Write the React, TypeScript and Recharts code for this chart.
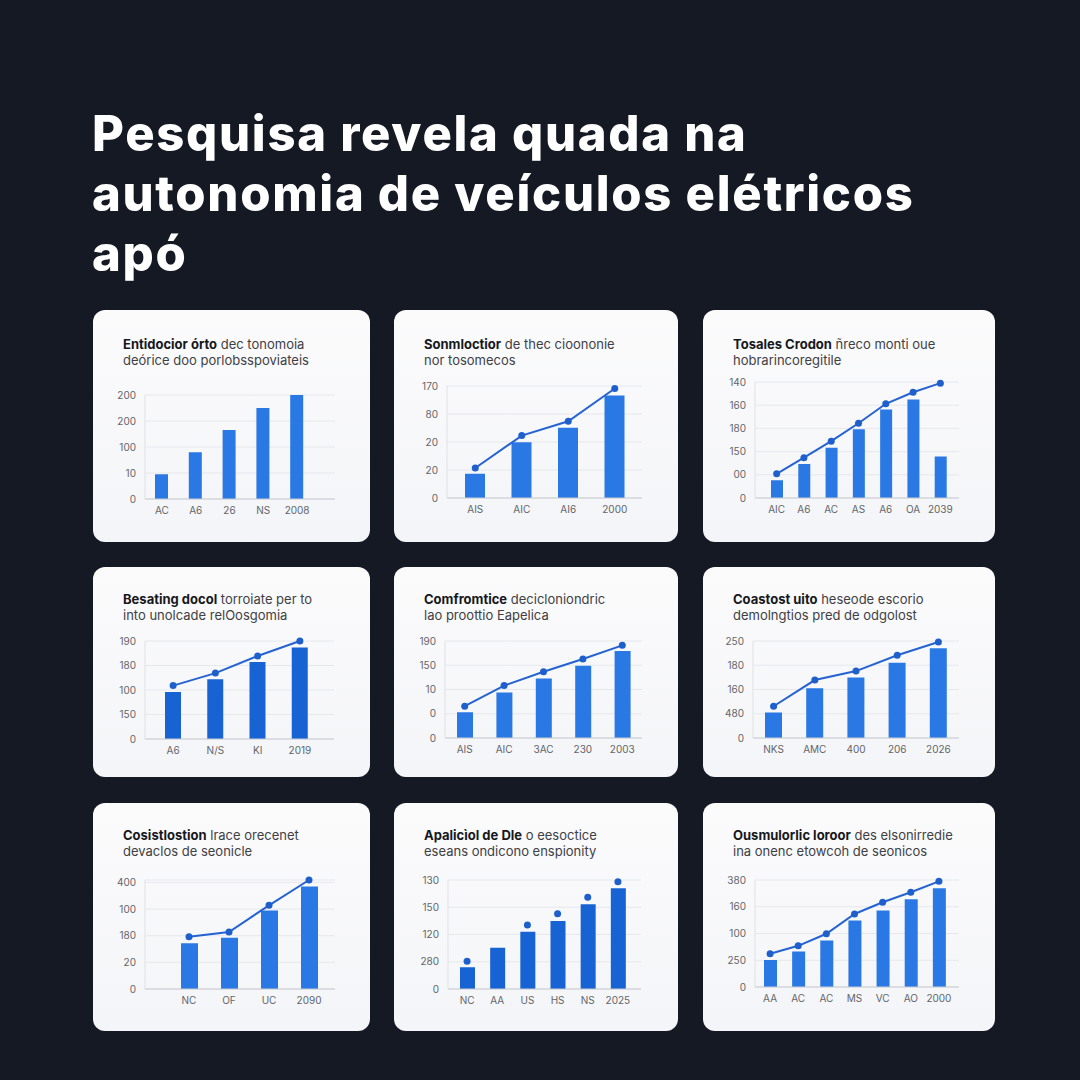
import { ComposedChart, Bar, Line, XAxis, YAxis, CartesianGrid } from 'recharts'

// chart 1
const c1Cats = ['AC', 'A6', '26', 'NS', '2008']
const c1Bars = [0.95, 1.8, 2.65, 3.5, 4.0]
const c1YLabels = ['0', '10', '100', '200', '200']

// chart 2
const c2Cats = ['AIS', 'AIC', 'AI6', '2000']
const c2Bars = [0.87, 1.99, 2.51, 3.66]
const c2Line = [1.07, 2.23, 2.74, 3.91]
const c2YLabels = ['0', '20', '20', '80', '170']

// chart 3
const c3Cats = ['AIC', 'A6', 'AC', 'AS', 'A6', 'OA', '2039']
const c3Bars = [0.77, 1.47, 2.17, 2.96, 3.82, 4.25, 1.79]
const c3Line = [1.04, 1.74, 2.45, 3.22, 4.06, 4.56, 4.95]
const c3YLabels = ['0', '00', '150', '180', '160', '140']

// chart 4
const c4Cats = ['A6', 'N/S', 'KI', '2019']
const c4Bars = [1.92, 2.44, 3.14, 3.73]
const c4Line = [2.18, 2.69, 3.39, 4.0]
const c4YLabels = ['0', '150', '100', '180', '190']

// chart 5
const c5Cats = ['AIS', 'AIC', '3AC', '230', '2003']
const c5Bars = [1.06, 1.88, 2.45, 2.98, 3.59]
const c5Line = [1.31, 2.16, 2.73, 3.26, 3.82]
const c5YLabels = ['0', '0', '10', '150', '190']

// chart 6
const c6Cats = ['NKS', 'AMC', '400', '206', '2026']
const c6Bars = [1.05, 2.05, 2.5, 3.1, 3.7]
const c6Line = [1.31, 2.39, 2.76, 3.41, 3.96]
const c6YLabels = ['0', '480', '160', '180', '250']

// chart 7
const c7Cats = ['NC', 'OF', 'UC', '2090']
const c7Bars = [1.72, 1.92, 2.95, 3.85]
const c7Line = [1.96, 2.14, 3.14, 4.09]
const c7YLabels = ['0', '20', '180', '100', '400']

// chart 8
const c8Cats = ['NC', 'AA', 'US', 'HS', 'NS', '2025']
const c8Bars = [0.8, 1.51, 2.1, 2.5, 3.11, 3.7]
const c8Dots = [1.02, null, 2.35, 2.76, 3.37, 3.94]
const c8YLabels = ['0', '280', '120', '150', '130']

// chart 9
const c9Cats = ['AA', 'AC', 'AC', 'MS', 'VC', 'AO', '2000']
const c9Bars = [1.01, 1.33, 1.74, 2.49, 2.86, 3.28, 3.69]
const c9Line = [1.24, 1.54, 1.99, 2.73, 3.17, 3.54, 3.95]
const c9YLabels = ['0', '250', '100', '160', '380']

const BLUE = '#2a78e4'
const DARK_BLUE = '#1763d3'
const LINE_BLUE = '#2463d1'
const FONT = 'Inter, "Noto Sans", sans-serif'

interface CardProps {
  box: { x: number; y: number; w: number; h: number }
  plot: { l: number; r: number; t: number; b: number }
  pad: { left: number; right: number }
  titleTop: number
  boldText: string
  restText: string
  line2: string
  cats: string[]
  bars: number[]
  line?: (number | null)[]
  showLine?: boolean
  yLabels: string[]
  barSize: number
  color: string
}

function ChartCard(p: CardProps) {
  const YW = 40
  const XH = 20
  const data = p.cats.map((c, i) => ({
    name: c,
    bar: p.bars[i],
    line: p.line ? p.line[i] : null,
  }))
  const n = p.yLabels.length - 1
  const ticks = p.yLabels.map((_, i) => i)
  const margin = {
    top: p.plot.t - p.box.y,
    right: p.box.x + p.box.w - p.plot.r,
    left: p.plot.l - p.box.x - YW,
    bottom: p.box.y + p.box.h - p.plot.b - XH,
  }
  return (
    <div
      style={{
        position: 'absolute',
        left: p.box.x,
        top: p.box.y,
        width: p.box.w,
        height: p.box.h,
        background: 'linear-gradient(180deg, #fbfbfc 0%, #f4f5f8 100%)',
        borderRadius: 12,
        overflow: 'hidden',
      }}
    >
      <div style={{ position: 'absolute', left: 0, top: 0 }}>
        <ComposedChart width={p.box.w} height={p.box.h} data={data} margin={margin}>
          <CartesianGrid vertical={false} stroke="#e6e8ec" />
          <XAxis
            dataKey="name"
            height={XH}
            padding={p.pad}
            tickLine={false}
            tickSize={0}
            tickMargin={8}
            axisLine={{ stroke: '#c8cbd1' }}
            tick={{ fontSize: 10, fill: '#62656b', fontFamily: FONT }}
            interval={0}
          />
          <YAxis
            type="number"
            width={YW}
            domain={[0, n]}
            ticks={ticks}
            interval={0}
            tickLine={false}
            tickSize={0}
            tickMargin={9}
            axisLine={{ stroke: '#dfe1e5' }}
            tickFormatter={(v: number) => p.yLabels[v] ?? ''}
            tick={{ fontSize: 10, fill: '#62656b', fontFamily: FONT }}
          />
          <Bar dataKey="bar" fill={p.color} barSize={p.barSize} isAnimationActive={false} />
          {p.line && (
            <Line
              dataKey="line"
              type="linear"
              stroke={p.showLine === false ? 'none' : LINE_BLUE}
              strokeWidth={2}
              dot={{ r: 3.5, fill: '#1f5fcc', stroke: '#1f5fcc', strokeWidth: 0 }}
              activeDot={false}
              isAnimationActive={false}
            />
          )}
        </ComposedChart>
      </div>
      <div
        style={{
          position: 'absolute',
          left: 30,
          top: p.titleTop,
          fontFamily: FONT,
          fontSize: 13,
          lineHeight: '16px',
          color: '#3e4045',
          whiteSpace: 'nowrap',
        }}
      >
        <div>
          <span style={{ fontWeight: 700, color: '#16181c' }}>{p.boldText}</span>
          {p.restText}
        </div>
        <div>{p.line2}</div>
      </div>
    </div>
  )
}

export default function App() {
  return (
    <div
      style={{
        position: 'absolute',
        left: 0,
        top: 0,
        width: 1080,
        height: 1080,
        background: '#151924',
        overflow: 'hidden',
      }}
    >
      <div
        style={{
          position: 'absolute',
          left: 92,
          top: 104,
          fontFamily: FONT,
          fontWeight: 800,
          fontSize: 49,
          lineHeight: '60px',
          color: '#ffffff',
          letterSpacing: 1.7,
          whiteSpace: 'nowrap',
        }}
      >
        <div>Pesquisa revela quada na</div>
        <div>autonomia de veículos elétricos</div>
        <div>apó</div>
      </div>

      <ChartCard
        box={{ x: 93, y: 310, w: 277, h: 232 }}
        plot={{ l: 145, r: 335, t: 395, b: 499 }}
        pad={{ left: 0, right: 21 }}
        titleTop={26}
        boldText="Entidocior órto"
        restText=" dec tonomoia"
        line2="deórice doo porlobsspoviateis"
        cats={c1Cats}
        bars={c1Bars}
        yLabels={c1YLabels}
        barSize={13}
        color={BLUE}
      />
      <ChartCard
        box={{ x: 394, y: 310, w: 284, h: 232 }}
        plot={{ l: 447, r: 642, t: 386, b: 498 }}
        pad={{ left: 5, right: 4 }}
        titleTop={26}
        boldText="Sonmloctior"
        restText=" de thec cioononie"
        line2="nor tosomecos"
        cats={c2Cats}
        bars={c2Bars}
        line={c2Line}
        yLabels={c2YLabels}
        barSize={20}
        color={BLUE}
      />
      <ChartCard
        box={{ x: 703, y: 310, w: 292, h: 232 }}
        plot={{ l: 755, r: 959, t: 382, b: 498 }}
        pad={{ left: 8, right: 5 }}
        titleTop={26}
        boldText="Tosales Crodon"
        restText=" ñreco monti oue"
        line2="hobrarincoregitile"
        cats={c3Cats}
        bars={c3Bars}
        line={c3Line}
        yLabels={c3YLabels}
        barSize={12}
        color={BLUE}
      />
      <ChartCard
        box={{ x: 93, y: 567, w: 277, h: 210 }}
        plot={{ l: 145, r: 334, t: 641, b: 739 }}
        pad={{ left: 7, right: 13 }}
        titleTop={24}
        boldText="Besating docol"
        restText=" torroiate per to"
        line2="into unolcade relOosgomia"
        cats={c4Cats}
        bars={c4Bars}
        line={c4Line}
        yLabels={c4YLabels}
        barSize={16}
        color={DARK_BLUE}
      />
      <ChartCard
        box={{ x: 394, y: 567, w: 284, h: 210 }}
        plot={{ l: 445, r: 642, t: 641, b: 738 }}
        pad={{ left: 0, right: 0 }}
        titleTop={24}
        boldText="Comfromtice"
        restText=" decicloniondric"
        line2="lao proottio Eapelica"
        cats={c5Cats}
        bars={c5Bars}
        line={c5Line}
        yLabels={c5YLabels}
        barSize={16}
        color={BLUE}
      />
      <ChartCard
        box={{ x: 703, y: 567, w: 292, h: 210 }}
        plot={{ l: 753, r: 959, t: 641, b: 738 }}
        pad={{ left: 0, right: 0 }}
        titleTop={24}
        boldText="Coastost uito"
        restText=" heseode escorio"
        line2="demolngtios pred de odgolost"
        cats={c6Cats}
        bars={c6Bars}
        line={c6Line}
        yLabels={c6YLabels}
        barSize={17}
        color={BLUE}
      />
      <ChartCard
        box={{ x: 93, y: 803, w: 277, h: 228 }}
        plot={{ l: 145, r: 335, t: 880, b: 989 }}
        pad={{ left: 24, right: 6 }}
        titleTop={24}
        boldText="Cosistlostion"
        restText=" lrace orecenet"
        line2="devaclos de seonicle"
        cats={c7Cats}
        bars={c7Bars}
        line={c7Line}
        yLabels={c7YLabels}
        barSize={17}
        color={BLUE}
      />
      <ChartCard
        box={{ x: 394, y: 803, w: 284, h: 228 }}
        plot={{ l: 448, r: 641, t: 880, b: 989 }}
        pad={{ left: 4, right: 8 }}
        titleTop={24}
        boldText="Apalicìol de Dle"
        restText=" o eesoctice"
        line2="eseans ondicono enspionity"
        cats={c8Cats}
        bars={c8Bars}
        line={c8Dots}
        showLine={false}
        yLabels={c8YLabels}
        barSize={15}
        color={DARK_BLUE}
      />
      <ChartCard
        box={{ x: 703, y: 803, w: 292, h: 228 }}
        plot={{ l: 755, r: 959, t: 880, b: 987 }}
        pad={{ left: 1, right: 6 }}
        titleTop={24}
        boldText="Ousmulorlic loroor"
        restText=" des elsonirredie"
        line2="ina onenc etowcoh de seonicos"
        cats={c9Cats}
        bars={c9Bars}
        line={c9Line}
        yLabels={c9YLabels}
        barSize={13}
        color={BLUE}
      />
    </div>
  )
}
